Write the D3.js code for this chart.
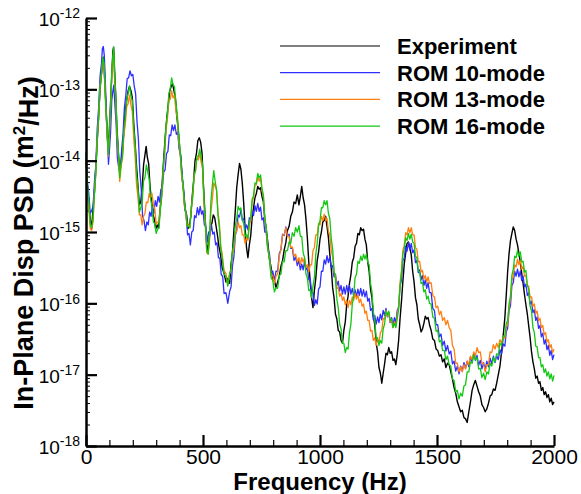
<!DOCTYPE html>
<meta charset="utf-8">
<style>
    body { margin: 0; background: #fff; }
    svg { display: block; }
    .axis path, .axis line { stroke: #000; }
    .psd { fill: none; stroke-linejoin: round; }
</style>
<svg id="chart" width="581" height="494"></svg>
<script src="https://cdn.jsdelivr.net/npm/d3@7"></script>
<script>

    // [frequency Hz, log10 PSD (m^2/Hz)]
    var experiment = [[0,-13.98],[6,-14.35],[12,-14.6],[18,-14.82],[24,-14.95],[30,-14.68],[36,-14.45],[42,-14.1],[48,-13.72],[54,-13.38],[60,-13.0],[66,-12.78],[72,-12.6],[76,-12.55],[80,-12.88],[85,-13.2],[90,-13.58],[95,-13.84],[100,-13.55],[105,-13.18],[110,-12.8],[115,-12.46],[118,-12.41],[122,-12.72],[127,-13.08],[132,-13.52],[138,-13.86],[144,-14.16],[150,-14.02],[156,-13.84],[162,-13.58],[168,-13.3],[174,-13.15],[180,-13.02],[186,-12.96],[192,-13.02],[198,-13.12],[204,-13.48],[210,-13.76],[216,-14.08],[222,-14.35],[228,-14.62],[234,-14.58],[240,-14.38],[246,-14.06],[252,-13.92],[257,-13.8],[262,-13.95],[268,-14.05],[274,-14.38],[280,-14.55],[286,-14.75],[292,-14.82],[298,-14.96],[304,-14.9],[310,-14.95],[316,-14.7],[322,-14.5],[328,-14.18],[334,-13.88],[340,-13.6],[346,-13.38],[352,-13.2],[358,-13.02],[364,-12.96],[370,-12.92],[376,-13.02],[382,-13.12],[388,-13.38],[394,-13.55],[400,-13.82],[406,-13.98],[412,-14.28],[418,-14.45],[424,-14.68],[430,-14.76],[436,-14.95],[442,-14.9],[448,-14.78],[454,-14.5],[460,-14.28],[466,-14.0],[472,-13.9],[478,-13.72],[484,-13.68],[490,-13.74],[496,-13.9],[502,-14.35],[508,-14.72],[514,-15.1],[520,-15.3],[526,-15.12],[532,-14.92],[538,-14.88],[544,-14.76],[550,-14.8],[556,-14.92],[562,-15.05],[568,-15.2],[575,-15.32],[582,-15.5],[590,-15.58],[598,-15.7],[606,-15.65],[614,-15.72],[620,-15.45],[626,-15.28],[632,-14.98],[638,-14.7],[644,-14.38],[650,-14.2],[656,-14.04],[662,-14.12],[668,-14.32],[674,-14.6],[680,-14.95],[686,-15.22],[692,-15.36],[698,-15.18],[704,-15.05],[710,-14.8],[716,-14.66],[722,-14.52],[728,-14.46],[734,-14.36],[740,-14.4],[746,-14.38],[752,-14.5],[758,-14.58],[764,-14.82],[770,-14.95],[777,-15.15],[784,-15.38],[791,-15.5],[798,-15.65],[805,-15.68],[812,-15.78],[819,-15.7],[826,-15.62],[833,-15.48],[840,-15.4],[847,-15.25],[854,-15.15],[861,-14.98],[868,-14.92],[875,-14.78],[882,-14.72],[889,-14.58],[896,-14.6],[903,-14.48],[910,-14.62],[916,-14.5],[922,-14.36],[928,-14.52],[934,-14.62],[940,-14.82],[946,-15.08],[952,-15.42],[958,-15.7],[964,-15.92],[970,-16.06],[976,-15.82],[982,-15.65],[988,-15.4],[994,-15.28],[1000,-15.1],[1006,-15.0],[1012,-14.86],[1018,-14.84],[1024,-14.78],[1030,-14.92],[1036,-15.08],[1042,-15.32],[1048,-15.5],[1054,-15.78],[1060,-15.92],[1066,-16.15],[1072,-16.22],[1078,-16.38],[1084,-16.4],[1090,-16.52],[1096,-16.56],[1102,-16.38],[1108,-16.26],[1114,-16.02],[1120,-15.9],[1126,-15.72],[1132,-15.6],[1138,-15.42],[1144,-15.36],[1150,-15.2],[1156,-15.16],[1162,-15.02],[1168,-15.04],[1174,-14.94],[1180,-14.98],[1186,-14.96],[1192,-15.1],[1198,-15.18],[1204,-15.42],[1210,-15.55],[1216,-15.8],[1222,-15.92],[1228,-16.18],[1234,-16.3],[1240,-16.55],[1246,-16.68],[1252,-16.9],[1258,-16.98],[1264,-17.12],[1270,-16.98],[1276,-16.85],[1282,-16.7],[1288,-16.72],[1294,-16.62],[1300,-16.7],[1306,-16.68],[1312,-16.8],[1318,-16.78],[1324,-16.86],[1330,-16.72],[1336,-16.52],[1342,-16.22],[1348,-15.98],[1354,-15.7],[1360,-15.45],[1366,-15.3],[1372,-15.16],[1378,-15.14],[1384,-15.22],[1390,-15.32],[1396,-15.55],[1402,-15.7],[1408,-15.92],[1414,-16.02],[1420,-16.22],[1426,-16.3],[1432,-16.4],[1438,-16.36],[1444,-16.28],[1450,-16.18],[1456,-16.22],[1462,-16.2],[1468,-16.3],[1475,-16.38],[1482,-16.5],[1489,-16.52],[1496,-16.64],[1503,-16.66],[1510,-16.74],[1517,-16.72],[1524,-16.82],[1531,-16.78],[1538,-16.9],[1545,-16.84],[1552,-16.86],[1559,-16.96],[1566,-17.06],[1573,-17.18],[1580,-17.26],[1587,-17.38],[1594,-17.45],[1601,-17.52],[1608,-17.5],[1615,-17.6],[1622,-17.62],[1629,-17.67],[1636,-17.52],[1643,-17.38],[1650,-17.22],[1657,-17.14],[1664,-17.08],[1671,-17.16],[1678,-17.24],[1685,-17.3],[1692,-17.42],[1699,-17.46],[1706,-17.52],[1713,-17.48],[1720,-17.4],[1727,-17.3],[1734,-17.28],[1741,-17.2],[1748,-17.22],[1755,-17.12],[1762,-17.0],[1769,-16.88],[1776,-16.68],[1783,-16.45],[1790,-16.2],[1796,-15.88],[1802,-15.55],[1808,-15.3],[1814,-15.12],[1820,-15.02],[1826,-14.93],[1832,-14.98],[1838,-15.1],[1844,-15.18],[1850,-15.3],[1856,-15.42],[1862,-15.58],[1868,-15.72],[1874,-15.88],[1880,-16.02],[1886,-16.15],[1892,-16.32],[1898,-16.48],[1904,-16.68],[1910,-16.82],[1916,-16.92],[1922,-17.05],[1928,-17.02],[1934,-17.12],[1940,-17.1],[1946,-17.22],[1952,-17.18],[1958,-17.28],[1964,-17.24],[1970,-17.32],[1976,-17.28],[1982,-17.38],[1988,-17.33],[1994,-17.42],[2000,-17.38]];

    var rom10 = [[0,-13.9],[6,-14.3],[12,-14.46],[18,-14.74],[24,-14.7],[30,-14.65],[36,-14.3],[42,-14.06],[48,-13.55],[54,-13.26],[60,-12.82],[66,-12.64],[70,-12.43],[74,-12.4],[78,-12.52],[82,-12.82],[87,-13.34],[92,-13.72],[96,-14.05],[100,-13.86],[105,-13.6],[110,-13.16],[115,-13.02],[119,-12.94],[124,-13.24],[129,-13.5],[134,-13.96],[140,-14.1],[146,-14.17],[152,-13.86],[158,-13.64],[164,-13.26],[170,-13.09],[176,-12.85],[182,-12.84],[188,-12.74],[194,-12.81],[200,-12.79],[206,-12.95],[212,-13.06],[218,-13.45],[224,-13.7],[230,-14.15],[236,-14.4],[242,-14.78],[248,-14.84],[254,-14.98],[260,-14.86],[266,-14.9],[272,-14.72],[278,-14.78],[284,-14.64],[290,-14.74],[296,-14.56],[302,-14.64],[308,-14.5],[314,-14.58],[320,-14.4],[326,-14.4],[332,-14.16],[338,-14.13],[344,-13.9],[350,-13.87],[356,-13.64],[362,-13.65],[368,-13.5],[374,-13.58],[380,-13.5],[386,-13.63],[392,-13.6],[398,-13.84],[404,-13.9],[410,-14.2],[416,-14.35],[422,-14.68],[428,-14.76],[434,-15.04],[440,-15.02],[446,-15.18],[452,-15.0],[458,-14.98],[464,-14.77],[470,-14.8],[476,-14.66],[482,-14.76],[488,-14.64],[494,-14.75],[500,-14.7],[506,-14.9],[512,-14.93],[518,-15.14],[524,-15.0],[530,-15.04],[536,-14.9],[542,-15.03],[548,-15.0],[554,-15.18],[560,-15.15],[566,-15.36],[572,-15.37],[578,-15.6],[584,-15.62],[590,-15.86],[598,-15.85],[606,-16.0],[614,-15.83],[620,-15.77],[626,-15.47],[632,-15.35],[638,-15.05],[644,-14.97],[650,-14.76],[656,-14.79],[662,-14.69],[668,-14.83],[674,-14.81],[680,-14.97],[686,-14.9],[692,-14.97],[698,-14.8],[704,-14.85],[710,-14.71],[716,-14.77],[722,-14.63],[728,-14.71],[734,-14.6],[740,-14.71],[746,-14.65],[752,-14.83],[758,-14.8],[764,-15.0],[770,-15.0],[777,-15.25],[784,-15.3],[791,-15.55],[798,-15.55],[805,-15.68],[812,-15.55],[819,-15.55],[826,-15.3],[833,-15.25],[840,-15.03],[847,-15.05],[854,-14.93],[861,-15.05],[868,-15.03],[875,-15.23],[882,-15.23],[889,-15.4],[896,-15.35],[903,-15.47],[910,-15.4],[916,-15.53],[922,-15.45],[928,-15.53],[934,-15.41],[940,-15.53],[946,-15.5],[952,-15.67],[958,-15.65],[964,-15.85],[970,-15.85],[976,-16.03],[982,-15.95],[988,-16.01],[994,-15.8],[1000,-15.77],[1006,-15.55],[1012,-15.55],[1018,-15.39],[1024,-15.45],[1030,-15.33],[1036,-15.43],[1042,-15.35],[1048,-15.5],[1054,-15.47],[1060,-15.63],[1066,-15.59],[1072,-15.75],[1078,-15.69],[1084,-15.83],[1090,-15.75],[1096,-15.87],[1102,-15.77],[1108,-15.87],[1114,-15.75],[1120,-15.85],[1126,-15.75],[1132,-15.87],[1138,-15.79],[1144,-15.9],[1150,-15.81],[1156,-15.91],[1162,-15.8],[1168,-15.89],[1174,-15.79],[1180,-15.9],[1186,-15.81],[1192,-15.91],[1198,-15.83],[1204,-15.97],[1210,-15.93],[1216,-16.1],[1222,-16.07],[1228,-16.23],[1234,-16.17],[1240,-16.29],[1246,-16.19],[1252,-16.27],[1258,-16.15],[1264,-16.23],[1270,-16.1],[1276,-16.17],[1282,-16.07],[1288,-16.19],[1294,-16.13],[1300,-16.27],[1306,-16.2],[1312,-16.31],[1318,-16.2],[1324,-16.27],[1330,-16.1],[1336,-16.05],[1342,-15.77],[1348,-15.67],[1354,-15.4],[1360,-15.37],[1366,-15.2],[1372,-15.27],[1378,-15.15],[1384,-15.25],[1390,-15.16],[1396,-15.29],[1402,-15.25],[1408,-15.43],[1414,-15.4],[1420,-15.57],[1426,-15.53],[1432,-15.67],[1438,-15.61],[1444,-15.75],[1450,-15.67],[1456,-15.79],[1462,-15.71],[1468,-15.85],[1475,-15.85],[1482,-16.07],[1489,-16.1],[1496,-16.3],[1503,-16.3],[1510,-16.47],[1517,-16.43],[1524,-16.59],[1531,-16.53],[1538,-16.67],[1545,-16.59],[1552,-16.71],[1559,-16.67],[1566,-16.85],[1573,-16.81],[1580,-16.95],[1587,-16.88],[1594,-16.99],[1601,-16.88],[1608,-16.95],[1615,-16.83],[1622,-16.91],[1629,-16.81],[1636,-16.89],[1643,-16.75],[1650,-16.82],[1657,-16.7],[1664,-16.8],[1671,-16.73],[1678,-16.87],[1685,-16.8],[1692,-16.92],[1699,-16.83],[1706,-16.93],[1713,-16.81],[1720,-16.89],[1727,-16.77],[1734,-16.85],[1741,-16.74],[1748,-16.83],[1755,-16.73],[1762,-16.79],[1769,-16.65],[1776,-16.71],[1783,-16.57],[1790,-16.6],[1796,-16.4],[1802,-16.35],[1808,-16.1],[1814,-16.03],[1820,-15.75],[1826,-15.71],[1832,-15.55],[1838,-15.62],[1844,-15.52],[1850,-15.63],[1856,-15.55],[1862,-15.68],[1868,-15.62],[1874,-15.77],[1880,-15.73],[1886,-15.89],[1892,-15.85],[1898,-16.01],[1904,-15.97],[1910,-16.13],[1916,-16.09],[1922,-16.24],[1928,-16.19],[1934,-16.35],[1940,-16.31],[1946,-16.47],[1952,-16.42],[1958,-16.57],[1964,-16.51],[1970,-16.65],[1976,-16.59],[1982,-16.73],[1988,-16.66],[1994,-16.79],[2000,-16.72]];

    var rom13 = [[0,-14.0],[6,-14.44],[12,-14.66],[18,-14.96],[24,-14.98],[30,-14.86],[36,-14.46],[42,-14.16],[48,-13.68],[54,-13.39],[60,-12.96],[66,-12.8],[72,-12.57],[76,-12.65],[80,-12.88],[85,-13.32],[90,-13.61],[95,-13.94],[100,-13.64],[105,-13.29],[110,-12.84],[115,-12.59],[118,-12.5],[122,-12.84],[127,-13.14],[132,-13.64],[138,-13.91],[144,-14.29],[150,-14.08],[156,-13.96],[162,-13.64],[168,-13.49],[174,-13.24],[180,-13.2],[186,-13.08],[192,-13.22],[198,-13.31],[204,-13.69],[210,-13.94],[216,-14.34],[222,-14.51],[228,-14.76],[234,-14.76],[240,-14.9],[246,-14.78],[252,-14.74],[258,-14.58],[264,-14.59],[270,-14.46],[276,-14.52],[282,-14.46],[288,-14.62],[294,-14.68],[300,-14.89],[306,-14.86],[312,-14.86],[318,-14.64],[324,-14.49],[330,-14.14],[336,-13.92],[342,-13.56],[348,-13.42],[354,-13.16],[360,-13.14],[366,-13.02],[372,-13.12],[378,-13.08],[384,-13.29],[390,-13.41],[396,-13.72],[402,-13.88],[408,-14.19],[414,-14.34],[420,-14.62],[426,-14.71],[432,-14.9],[438,-14.9],[444,-14.94],[450,-14.66],[456,-14.49],[462,-14.21],[468,-14.14],[474,-13.96],[480,-13.99],[486,-13.9],[492,-14.02],[498,-14.11],[504,-14.59],[510,-14.91],[516,-15.29],[522,-15.31],[528,-15.12],[534,-14.71],[540,-14.54],[546,-14.31],[552,-14.36],[558,-14.41],[564,-14.72],[570,-14.88],[576,-15.19],[582,-15.31],[590,-15.54],[598,-15.58],[606,-15.74],[614,-15.58],[620,-15.54],[626,-15.31],[632,-15.24],[638,-15.01],[644,-14.99],[650,-14.86],[656,-14.94],[662,-14.91],[668,-15.04],[674,-15.04],[680,-15.16],[686,-15.08],[692,-15.12],[698,-14.91],[704,-14.84],[710,-14.58],[716,-14.52],[722,-14.34],[728,-14.34],[734,-14.22],[740,-14.29],[746,-14.24],[752,-14.42],[758,-14.51],[764,-14.82],[770,-14.96],[777,-15.24],[784,-15.36],[791,-15.59],[798,-15.61],[805,-15.72],[812,-15.62],[819,-15.59],[826,-15.34],[833,-15.24],[840,-15.04],[847,-15.04],[854,-14.94],[861,-15.06],[868,-15.06],[875,-15.22],[882,-15.21],[889,-15.34],[896,-15.31],[903,-15.42],[910,-15.36],[916,-15.46],[922,-15.36],[928,-15.42],[934,-15.36],[940,-15.49],[946,-15.46],[952,-15.56],[958,-15.46],[964,-15.46],[970,-15.26],[976,-15.22],[982,-15.04],[988,-15.04],[994,-14.88],[1000,-14.9],[1006,-14.78],[1012,-14.84],[1018,-14.75],[1024,-14.84],[1030,-14.81],[1036,-14.99],[1042,-15.04],[1048,-15.26],[1054,-15.34],[1060,-15.56],[1066,-15.61],[1072,-15.79],[1078,-15.78],[1084,-15.9],[1090,-15.86],[1096,-15.96],[1102,-15.91],[1108,-16.02],[1114,-15.96],[1120,-16.06],[1126,-15.96],[1132,-16.02],[1138,-15.91],[1144,-15.96],[1150,-15.86],[1156,-15.94],[1162,-15.88],[1168,-15.99],[1174,-15.94],[1180,-16.04],[1186,-16.01],[1192,-16.14],[1198,-16.11],[1204,-16.24],[1210,-16.24],[1216,-16.39],[1222,-16.38],[1228,-16.52],[1234,-16.48],[1240,-16.59],[1246,-16.51],[1252,-16.56],[1258,-16.41],[1264,-16.39],[1270,-16.21],[1276,-16.22],[1282,-16.1],[1288,-16.18],[1294,-16.14],[1300,-16.26],[1306,-16.24],[1312,-16.34],[1318,-16.26],[1324,-16.32],[1330,-16.16],[1336,-16.04],[1342,-15.71],[1348,-15.54],[1354,-15.26],[1360,-15.19],[1366,-15.01],[1372,-15.04],[1378,-14.94],[1384,-15.01],[1390,-14.94],[1396,-15.04],[1402,-15.04],[1408,-15.22],[1414,-15.24],[1420,-15.42],[1426,-15.41],[1432,-15.56],[1438,-15.54],[1444,-15.66],[1450,-15.61],[1456,-15.7],[1462,-15.63],[1468,-15.72],[1475,-15.71],[1482,-15.89],[1489,-15.91],[1496,-16.06],[1503,-16.04],[1510,-16.16],[1517,-16.11],[1524,-16.24],[1531,-16.2],[1538,-16.3],[1545,-16.24],[1552,-16.34],[1559,-16.38],[1566,-16.59],[1573,-16.64],[1580,-16.84],[1587,-16.84],[1594,-16.96],[1601,-16.89],[1608,-16.96],[1615,-16.86],[1622,-16.92],[1629,-16.81],[1636,-16.86],[1643,-16.74],[1650,-16.79],[1657,-16.68],[1664,-16.74],[1671,-16.62],[1678,-16.69],[1685,-16.68],[1692,-16.84],[1699,-16.84],[1706,-16.96],[1713,-16.86],[1720,-16.86],[1727,-16.68],[1734,-16.69],[1741,-16.58],[1748,-16.64],[1755,-16.56],[1762,-16.62],[1769,-16.51],[1776,-16.56],[1783,-16.46],[1790,-16.49],[1796,-16.34],[1802,-16.29],[1808,-16.06],[1814,-15.94],[1820,-15.68],[1826,-15.62],[1832,-15.46],[1838,-15.49],[1844,-15.38],[1850,-15.46],[1856,-15.4],[1862,-15.52],[1868,-15.48],[1874,-15.62],[1880,-15.61],[1886,-15.76],[1892,-15.76],[1898,-15.92],[1904,-15.91],[1910,-16.04],[1916,-16.01],[1922,-16.14],[1928,-16.11],[1934,-16.24],[1940,-16.21],[1946,-16.34],[1952,-16.31],[1958,-16.44],[1964,-16.41],[1970,-16.54],[1976,-16.51],[1982,-16.62],[1988,-16.58],[1994,-16.69],[2000,-16.64]];

    var rom16 = [[0,-13.88],[6,-14.34],[12,-14.58],[18,-14.89],[24,-14.94],[30,-14.82],[36,-14.46],[42,-14.19],[48,-13.71],[54,-13.4],[60,-12.96],[66,-12.79],[72,-12.55],[76,-12.63],[80,-12.86],[85,-13.29],[90,-13.56],[95,-13.92],[100,-13.58],[105,-13.24],[110,-12.78],[115,-12.52],[118,-12.41],[122,-12.79],[127,-13.08],[132,-13.59],[138,-13.86],[144,-14.24],[150,-14.04],[156,-13.94],[162,-13.56],[168,-13.39],[174,-13.14],[180,-13.06],[186,-12.95],[192,-13.09],[198,-13.16],[204,-13.54],[210,-13.78],[216,-14.19],[222,-14.38],[228,-14.72],[234,-14.66],[240,-14.59],[246,-14.28],[252,-14.24],[258,-14.06],[264,-14.16],[270,-14.26],[276,-14.54],[282,-14.64],[288,-14.86],[294,-14.88],[300,-15.02],[306,-14.96],[312,-14.94],[318,-14.68],[324,-14.49],[330,-14.11],[336,-13.86],[342,-13.51],[348,-13.34],[354,-13.06],[360,-12.99],[366,-12.84],[372,-12.94],[378,-12.96],[384,-13.19],[390,-13.34],[396,-13.64],[402,-13.84],[408,-14.14],[414,-14.31],[420,-14.59],[426,-14.71],[432,-14.92],[438,-14.92],[444,-14.94],[450,-14.66],[456,-14.52],[462,-14.21],[468,-14.14],[474,-13.94],[480,-13.94],[486,-13.84],[492,-13.94],[498,-14.06],[504,-14.54],[510,-14.86],[516,-15.26],[522,-15.31],[528,-15.04],[534,-14.56],[540,-14.34],[546,-14.14],[552,-14.29],[558,-14.41],[564,-14.76],[570,-14.94],[576,-15.24],[582,-15.36],[590,-15.59],[598,-15.62],[606,-15.76],[614,-15.58],[620,-15.52],[626,-15.26],[632,-15.16],[638,-14.91],[644,-14.82],[650,-14.64],[656,-14.69],[662,-14.66],[668,-14.84],[674,-14.88],[680,-15.06],[686,-15.04],[692,-15.09],[698,-14.86],[704,-14.79],[710,-14.54],[716,-14.49],[722,-14.31],[728,-14.32],[734,-14.18],[740,-14.24],[746,-14.2],[752,-14.39],[758,-14.48],[764,-14.79],[770,-14.94],[777,-15.24],[784,-15.38],[791,-15.64],[798,-15.68],[805,-15.84],[812,-15.78],[819,-15.79],[826,-15.61],[833,-15.59],[840,-15.41],[847,-15.42],[854,-15.26],[861,-15.26],[868,-15.14],[875,-15.16],[882,-15.01],[889,-15.06],[896,-14.94],[903,-15.0],[910,-14.91],[916,-15.06],[922,-15.06],[928,-15.29],[934,-15.36],[940,-15.59],[946,-15.64],[952,-15.82],[958,-15.81],[964,-15.92],[970,-15.76],[976,-15.64],[982,-15.31],[988,-15.16],[994,-14.91],[1000,-14.84],[1006,-14.66],[1012,-14.66],[1018,-14.56],[1024,-14.62],[1030,-14.56],[1036,-14.74],[1042,-14.81],[1048,-15.09],[1054,-15.24],[1060,-15.54],[1066,-15.66],[1072,-15.94],[1078,-16.06],[1084,-16.29],[1090,-16.36],[1096,-16.56],[1102,-16.56],[1108,-16.69],[1114,-16.62],[1120,-16.64],[1126,-16.41],[1132,-16.29],[1138,-16.01],[1144,-15.89],[1150,-15.64],[1156,-15.59],[1162,-15.41],[1168,-15.44],[1174,-15.34],[1180,-15.4],[1186,-15.31],[1192,-15.38],[1198,-15.31],[1204,-15.42],[1210,-15.46],[1216,-15.72],[1222,-15.84],[1228,-16.12],[1234,-16.24],[1240,-16.49],[1246,-16.48],[1252,-16.59],[1258,-16.52],[1264,-16.56],[1270,-16.36],[1276,-16.29],[1282,-16.11],[1288,-16.16],[1294,-16.11],[1300,-16.24],[1306,-16.22],[1312,-16.34],[1318,-16.28],[1324,-16.34],[1330,-16.21],[1336,-16.09],[1342,-15.76],[1348,-15.59],[1354,-15.31],[1360,-15.24],[1366,-15.08],[1372,-15.12],[1378,-15.02],[1384,-15.1],[1390,-15.03],[1396,-15.14],[1402,-15.16],[1408,-15.34],[1414,-15.36],[1420,-15.54],[1426,-15.56],[1432,-15.72],[1438,-15.71],[1444,-15.84],[1450,-15.81],[1456,-15.94],[1462,-15.9],[1468,-16.0],[1475,-16.01],[1482,-16.19],[1489,-16.21],[1496,-16.39],[1503,-16.38],[1510,-16.54],[1517,-16.52],[1524,-16.66],[1531,-16.66],[1538,-16.79],[1545,-16.74],[1552,-16.86],[1559,-16.88],[1566,-17.06],[1573,-17.08],[1580,-17.24],[1587,-17.22],[1594,-17.34],[1601,-17.26],[1608,-17.3],[1615,-17.16],[1622,-17.14],[1629,-16.96],[1636,-16.96],[1643,-16.82],[1650,-16.84],[1657,-16.72],[1664,-16.79],[1671,-16.76],[1678,-16.92],[1685,-16.91],[1692,-17.04],[1699,-16.98],[1706,-17.07],[1713,-16.96],[1720,-16.99],[1727,-16.84],[1734,-16.88],[1741,-16.76],[1748,-16.82],[1755,-16.71],[1762,-16.72],[1769,-16.56],[1776,-16.59],[1783,-16.46],[1790,-16.46],[1796,-16.28],[1802,-16.24],[1808,-16.01],[1814,-15.89],[1820,-15.61],[1826,-15.52],[1832,-15.34],[1838,-15.36],[1844,-15.26],[1850,-15.34],[1856,-15.28],[1862,-15.42],[1868,-15.41],[1874,-15.56],[1880,-15.54],[1886,-15.74],[1892,-15.81],[1898,-16.04],[1904,-16.11],[1910,-16.34],[1916,-16.41],[1922,-16.6],[1928,-16.61],[1934,-16.76],[1940,-16.76],[1946,-16.89],[1952,-16.86],[1958,-16.97],[1964,-16.92],[1970,-17.02],[1976,-16.96],[1982,-17.06],[1988,-16.99],[1994,-17.09],[2000,-17.01]];

    var seriesNames = ["Experiment", "ROM 10-mode", "ROM 13-mode", "ROM 16-mode"];
    var seriesColors = ["#000000", "#2f2fff", "#ff7f10", "#12c812"];
    var seriesData = [experiment, rom10, rom13, rom16];

    var xTicks = [0, 500, 1000, 1500, 2000];
    var yDecades = [-18, -17, -16, -15, -14, -13, -12];

    var font = "'Liberation Sans', Arial, Helvetica, sans-serif";

    var svg = d3.select("#chart");

    var x = d3.scaleLinear().domain([0, 2000]).range([86, 554]);
    var y = d3.scaleLog().domain([1e-18, 1e-12]).range([446, 18]);

    // minor ticks
    var xMinor = d3.range(0, 2001, 100).filter(function(d) { return d % 500 !== 0; });
    var yMinor = [];
    yDecades.slice(0, -1).forEach(function(e) {
        for (var k = 2; k <= 9; k++) yMinor.push(k * Math.pow(10, e));
    });

    svg.append("g")
        .attr("class", "axis")
        .attr("transform", "translate(0,446)")
        .call(d3.axisBottom(x).tickValues(xMinor).tickSize(-6).tickFormat(""))
        .call(function(g) { g.select(".domain").remove(); })
        .selectAll("line").attr("stroke-width", 1.2);

    svg.append("g")
        .attr("class", "axis")
        .attr("transform", "translate(86,0)")
        .call(d3.axisLeft(y).tickValues(yMinor).tickSize(-4).tickFormat(""))
        .call(function(g) { g.select(".domain").remove(); })
        .selectAll("line").attr("stroke-width", 1);

    // curves
    var line = d3.line()
        .x(function(d) { return x(d[0]); })
        .y(function(d) { return y(Math.pow(10, d[1])); });

    svg.append("g")
        .selectAll("path")
        .data(seriesData)
        .enter()
        .append("path")
        .attr("class", "psd")
        .attr("stroke", function(d, i) { return seriesColors[i]; })
        .attr("stroke-width", function(d, i) { return i === 0 ? 1.4 : 1.3; })
        .attr("d", line);

    // major axes
    var gx = svg.append("g")
        .attr("class", "axis")
        .attr("transform", "translate(0,446)")
        .call(d3.axisBottom(x).tickValues(xTicks).tickFormat(d3.format("d"))
            .tickSize(-11).tickPadding(3).tickSizeOuter(0));
    gx.select(".domain").attr("stroke-width", 2.5);
    gx.selectAll("line").attr("stroke-width", 2.2);
    gx.selectAll("text").attr("font-family", font).attr("font-size", 21).attr("fill", "#000");

    var gy = svg.append("g")
        .attr("class", "axis")
        .attr("transform", "translate(86,0)")
        .call(d3.axisLeft(y).tickValues(yDecades.map(function(e) { return Math.pow(10, e); }))
            .tickSize(-11).tickPadding(6).tickSizeOuter(0));
    gy.select(".domain").attr("stroke-width", 2.5);
    gy.selectAll("line").attr("stroke-width", 2.2);
    gy.selectAll(".tick text")
        .attr("font-family", font)
        .attr("font-size", 19)
        .attr("fill", "#000")
        .attr("dy", "0.4em")
        .each(function(d) {
            var t = d3.select(this);
            t.text(null);
            t.append("tspan").text("10");
            t.append("tspan").attr("dy", "-0.55em").attr("font-size", 14)
                .text(String(Math.round(Math.log10(d))));
        });

    // axis titles
    svg.append("text")
        .attr("x", 320)
        .attr("y", 490)
        .attr("text-anchor", "middle")
        .attr("font-family", font)
        .attr("font-weight", "bold")
        .attr("font-size", 24)
        .text("Frequency (Hz)");

    var yTitle = svg.append("text")
        .attr("transform", "translate(33,243) rotate(-90)")
        .attr("text-anchor", "middle")
        .attr("font-family", font)
        .attr("font-weight", "bold")
        .attr("font-size", 27);
    yTitle.append("tspan").text("In-Plane Disp PSD (m");
    yTitle.append("tspan").attr("dy", "-0.45em").attr("font-size", 17).text("2");
    yTitle.append("tspan").attr("dy", "0.45em").text("/Hz)");

    // legend
    var legend = svg.append("g")
        .selectAll("g")
        .data(seriesNames)
        .enter()
        .append("g")
        .attr("transform", function(d, i) { return "translate(0," + (46 + i * 26.7) + ")"; });

    legend.append("line")
        .attr("x1", 280).attr("x2", 380)
        .attr("stroke", function(d, i) { return seriesColors[i]; })
        .attr("stroke-width", 1.2);

    legend.append("text")
        .attr("x", 397)
        .attr("dy", "0.36em")
        .attr("font-family", font)
        .attr("font-weight", "bold")
        .attr("font-size", 22)
        .text(function(d) { return d; });

</script>
